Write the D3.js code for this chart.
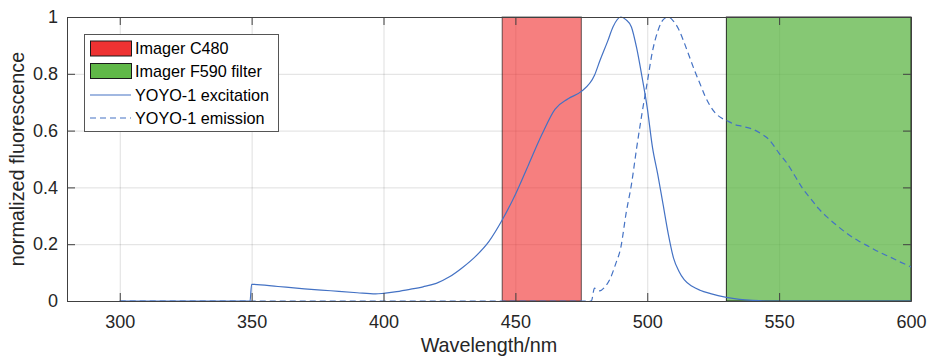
<!DOCTYPE html>
<html>
<head>
<meta charset="utf-8">
<script src="https://cdn.jsdelivr.net/npm/d3@7"></script>
<style>
  body { margin: 0; background: #fff; }
  svg { display: block; font-family: "Liberation Sans", Arial, Helvetica, sans-serif; }
</style>
</head>
<body>
<svg id="chart" width="927" height="357"></svg>
<script>
// ---- data ----
const xTicks = [300, 350, 400, 450, 500, 550, 600];
const yTicks = [0, 0.2, 0.4, 0.6, 0.8, 1];
const yTickLabels = ["0", "0.2", "0.4", "0.6", "0.8", "1"];

const excitationWl = [300, 349.4, 350, 360, 370, 380, 390, 397, 400, 405, 410, 415, 420, 425, 430, 435, 440, 445, 450, 455, 460, 465, 470, 475, 480, 482, 485, 487, 490, 492, 494, 496, 498, 500, 502, 504, 506, 508, 510, 512, 514, 517, 520, 524, 530, 535, 540, 545, 600];
const excitationVal = [0, 0, 0.059, 0.051, 0.043, 0.036, 0.029, 0.025, 0.027, 0.033, 0.041, 0.050, 0.062, 0.085, 0.118, 0.158, 0.21, 0.285, 0.375, 0.48, 0.585, 0.675, 0.712, 0.738, 0.795, 0.845, 0.915, 0.965, 1.0, 0.99, 0.965, 0.89, 0.79, 0.68, 0.54, 0.445, 0.34, 0.235, 0.15, 0.105, 0.075, 0.052, 0.038, 0.026, 0.013, 0.006, 0.002, 0, 0];

const emissionWl = [300, 478.8, 480, 482, 484, 486, 488, 490, 492, 494, 496, 498, 500, 502, 504, 506, 508, 510, 512, 514, 516, 518, 520, 522, 524, 526, 528, 530, 533, 536, 540, 543, 546, 550, 553, 556, 559, 562, 565, 568, 572, 576, 580, 584, 588, 592, 596, 600];
const emissionVal = [0, 0, 0.045, 0.036, 0.05, 0.08, 0.13, 0.19, 0.31, 0.41, 0.54, 0.66, 0.77, 0.88, 0.95, 0.99, 1.0, 0.985, 0.955, 0.91, 0.86, 0.81, 0.765, 0.72, 0.685, 0.66, 0.645, 0.636, 0.622, 0.615, 0.605, 0.59, 0.57, 0.52, 0.485, 0.44, 0.395, 0.36, 0.325, 0.297, 0.265, 0.236, 0.212, 0.192, 0.172, 0.155, 0.137, 0.12];

const bandNames = ["Imager C480", "Imager F590 filter"];
const bandStart = [445, 530];
const bandEnd = [475, 600];
const lineNames = ["YOYO-1 excitation", "YOYO-1 emission"];

// ---- layout ----
const W = 927, H = 357;
const margin = { left: 67, right: 16, top: 17, bottom: 56 };
const iw = W - margin.left - margin.right;
const ih = H - margin.top - margin.bottom;

const svg = d3.select("#chart");
const g = svg.append("g").attr("transform", `translate(${margin.left},${margin.top})`);

const x = d3.scaleLinear().domain([280, 600]).range([0, iw]);
const y = d3.scaleLinear().domain([0, 1]).range([ih, 0]);

const axisColor = "#404040";
const lineColor = "#4472c4";

// grid
const gridX = g.append("g").attr("transform", `translate(0,${ih})`)
  .call(d3.axisBottom(x).tickValues(xTicks).tickSize(-ih).tickFormat(""));
const gridY = g.append("g")
  .call(d3.axisLeft(y).tickValues(yTicks).tickSize(-iw).tickFormat(""));
[gridX, gridY].forEach(s => {
  s.select(".domain").remove();
  s.selectAll("line").attr("stroke", "#262626").attr("stroke-opacity", 0.15).attr("stroke-width", 1);
});

// bands
const bandFill = ["rgb(240,48,48)", "rgb(94,182,70)"];
const bandOpacity = [0.62, 0.75];
bandNames.forEach((n, i) => {
  g.append("rect")
    .attr("x", x(bandStart[i]))
    .attr("y", y(1))
    .attr("width", x(bandEnd[i]) - x(bandStart[i]))
    .attr("height", y(0) - y(1))
    .attr("fill", bandFill[i])
    .attr("fill-opacity", bandOpacity[i])
    .attr("stroke", "#000")
    .attr("stroke-opacity", i === 0 ? 0.6 : 0.8)
    .attr("stroke-width", 1);
});

// lines
const lineGen = d3.line().x(d => x(d[0])).y(d => y(d[1])).curve(d3.curveMonotoneX);
const exData = excitationWl.map((w, i) => [w, excitationVal[i]]);
const emData = emissionWl.map((w, i) => [w, emissionVal[i]]);

g.append("path").datum(emData).attr("d", lineGen)
  .attr("fill", "none").attr("stroke", lineColor).attr("stroke-width", 1.2)
  .attr("stroke-dasharray", "6,4");
g.append("path").datum(exData).attr("d", lineGen)
  .attr("fill", "none").attr("stroke", lineColor).attr("stroke-width", 1.2);

// axes
const tickFont = 18;
const axB = g.append("g").attr("transform", `translate(0,${ih})`)
  .call(d3.axisBottom(x).tickValues(xTicks).tickSizeInner(-8).tickSizeOuter(0).tickPadding(14));
const axL = g.append("g")
  .call(d3.axisLeft(y).tickValues(yTicks).tickFormat((d, i) => yTickLabels[i]).tickSizeInner(-8).tickSizeOuter(0).tickPadding(9));
const axT = g.append("g")
  .call(d3.axisTop(x).tickValues(xTicks).tickSizeInner(-8).tickSizeOuter(0).tickFormat(""));
const axR = g.append("g").attr("transform", `translate(${iw},0)`)
  .call(d3.axisRight(y).tickValues(yTicks).tickSizeInner(-8).tickSizeOuter(0).tickFormat(""));
[axB, axL, axT, axR].forEach(s => {
  s.select(".domain").attr("stroke", axisColor).attr("stroke-width", 1);
  s.selectAll(".tick line").attr("stroke", axisColor).attr("stroke-width", 1);
  s.selectAll("text").attr("fill", "#262626").style("font-size", tickFont + "px")
    .style("font-family", "'Liberation Sans', Arial, sans-serif");
});

// axis labels
svg.append("text")
  .attr("x", margin.left + iw / 2).attr("y", 352)
  .attr("text-anchor", "middle")
  .attr("fill", "#262626")
  .style("font-size", "19.8px")
  .text("Wavelength/nm");
svg.append("text")
  .attr("transform", `translate(24,${margin.top + ih / 2}) rotate(-90)`)
  .attr("text-anchor", "middle")
  .attr("fill", "#262626")
  .style("font-size", "19.8px")
  .text("normalized fluorescence");

// legend
const leg = svg.append("g");
leg.append("rect").attr("x", 84.5).attr("y", 34.5).attr("width", 194).attr("height", 97)
  .attr("fill", "#fff").attr("stroke", "#555").attr("stroke-width", 1);
const legFont = 16.2;
const swatchFill = ["rgb(238,50,50)", "rgb(96,184,72)"];
const rowY = [48.5, 71, 95, 118];
bandNames.forEach((n, i) => {
  leg.append("rect").attr("x", 90.5).attr("y", rowY[i] - 7.5).attr("width", 41).attr("height", 15)
    .attr("fill", swatchFill[i]).attr("stroke", "#1a1a1a").attr("stroke-width", 1);
  leg.append("text").attr("x", 135).attr("y", rowY[i]).attr("dy", "0.35em")
    .attr("fill", "#000").style("font-size", legFont + "px").text(n);
});
lineNames.forEach((n, i) => {
  const yy = rowY[i + 2];
  leg.append("line").attr("x1", 90).attr("x2", 131).attr("y1", yy).attr("y2", yy)
    .attr("stroke", lineColor).attr("stroke-width", 1.2)
    .attr("stroke-dasharray", i === 1 ? "6,4" : null);
  leg.append("text").attr("x", 135).attr("y", yy).attr("dy", "0.35em")
    .attr("fill", "#000").style("font-size", legFont + "px").text(n);
});
</script>
</body>
</html>
